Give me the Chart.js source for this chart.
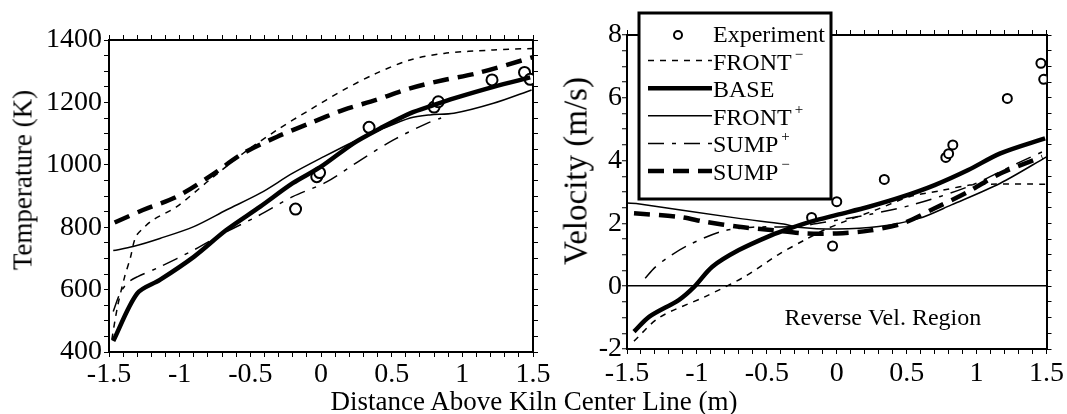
<!DOCTYPE html>
<html>
<head>
<meta charset="utf-8">
<script src="https://cdn.jsdelivr.net/npm/chart.js@4.4.0/dist/chart.umd.min.js"></script>
<style>
  body { margin: 0; background: #fff; }
  #wrap { position: relative; width: 1067px; height: 414px; overflow: hidden; font-family: 'Liberation Serif', serif; color: #000; }
  canvas { position: absolute; top: 0; }
  #tempChart { left: 0; }
  #velChart { left: 545px; }
  .title { position: absolute; white-space: nowrap; line-height: 1; z-index: 2; }
  .ytitle { transform: translate(-50%, -50%) rotate(-90deg); }
  .xtitle { transform: translate(-50%, -50%); }
</style>
</head>
<body>
<div id="wrap">
  <canvas id="tempChart" width="560" height="414"></canvas>
  <canvas id="velChart" width="522" height="414"></canvas>
  <div class="title ytitle" style="left:23px; top:180px; font-size:27px;">Temperature (K)</div>
  <div class="title ytitle" style="left:576px; top:171px; font-size:33px;">Velocity (m/s)</div>
  <div class="title xtitle" style="left:534px; top:401px; font-size:27px;">Distance Above Kiln Center Line (m)</div>
</div>
<script>
// tick labels
const xTickLabels = [-1.5, -1, -0.5, 0, 0.5, 1, 1.5];
const tempTickLabels = [400, 600, 800, 1000, 1200, 1400];
const velTickLabels = [-2, 0, 2, 4, 6, 8];

// legend / series names
const seriesNames = ['Experiment', 'FRONT', 'BASE', 'FRONT', 'SUMP', 'SUMP'];
const seriesSup = ['', '\u2212', '', '+', '+', '\u2212'];
const regionLabel = 'Reverse Vel. Region';

// temperature panel (K)
const tempExpX = [-0.18, -0.03, -0.01, 0.34, 0.80, 0.83, 1.21, 1.44, 1.48];
const tempExpY = [858, 962, 975, 1120, 1185, 1202, 1272, 1296, 1274];
const tempFrontMinusX = [-1.48, -1.44, -1.39, -1.35, -1.31, -1.25, -1.19, -1.02, -0.79, -0.55, -0.31, -0.08, 0.16, 0.39, 0.63, 0.87, 1.22, 1.50];
const tempFrontMinusY = [440, 545, 640, 700, 770, 800, 823, 866, 951, 1037, 1112, 1176, 1240, 1293, 1336, 1357, 1368, 1373];
const tempBaseX = [-1.47, -1.30, -1.14, -0.90, -0.67, -0.43, -0.20, 0.0, 0.23, 0.42, 0.63, 0.80, 0.94, 1.22, 1.48];
const tempBaseY = [435, 588, 631, 705, 791, 866, 941, 994, 1069, 1117, 1165, 1192, 1213, 1250, 1280];
const tempFrontPlusX = [-1.47, -1.33, -1.14, -0.90, -0.67, -0.43, -0.20, 0.02, 0.23, 0.42, 0.63, 0.77, 0.94, 1.22, 1.49];
const tempFrontPlusY = [725, 738, 764, 802, 855, 909, 973, 1026, 1074, 1112, 1150, 1160, 1165, 1197, 1240];
const tempSumpPlusX = [-1.47, -1.42, -1.36, -1.30, -1.14, -0.90, -0.67, -0.45, -0.20, 0.04, 0.28, 0.51, 0.75, 0.85];
const tempSumpPlusY = [530, 590, 625, 641, 673, 727, 785, 835, 898, 945, 1015, 1079, 1133, 1150];
const tempSumpMinusX = [-1.46, -1.26, -1.02, -0.79, -0.55, -0.31, -0.08, 0.16, 0.39, 0.63, 0.87, 1.10, 1.50];
const tempSumpMinusY = [815, 855, 898, 962, 1037, 1090, 1133, 1176, 1208, 1245, 1272, 1293, 1345];

// velocity panel (m/s)
const velExpX = [-0.18, -0.03, 0.0, 0.34, 0.78, 0.80, 0.83, 1.22, 1.46, 1.48];
const velExpY = [2.19, 1.28, 2.69, 3.40, 4.10, 4.22, 4.50, 5.98, 7.10, 6.59];
const velFrontMinusX = [-1.45, -1.27, -0.94, -0.66, -0.42, -0.23, -0.09, 0.05, 0.28, 0.52, 0.75, 0.95, 1.10, 1.50];
const velFrontMinusY = [-1.75, -1.0, -0.33, 0.30, 1.0, 1.47, 1.79, 2.05, 2.43, 2.85, 3.05, 3.22, 3.25, 3.25];
const velBaseX = [-1.45, -1.34, -1.13, -1.02, -0.89, -0.70, -0.47, -0.33, -0.19, 0.0, 0.23, 0.47, 0.70, 0.94, 1.17, 1.49];
const velBaseY = [-1.45, -0.97, -0.44, -0.02, 0.62, 1.15, 1.62, 1.85, 2.05, 2.27, 2.53, 2.85, 3.22, 3.70, 4.23, 4.71];
const velFrontPlusX = [-1.5, -1.41, -0.70, -0.38, -0.28, 0.0, 0.30, 0.59, 0.82, 1.17, 1.50];
const velFrontPlusY = [2.65, 2.62, 2.16, 1.98, 1.88, 1.82, 1.90, 2.16, 2.59, 3.28, 4.12];
const velSumpPlusX = [-1.37, -1.30, -1.20, -1.06, -0.82, -0.60, -0.30, 0.0, 0.25, 0.54, 0.94, 1.29, 1.50];
const velSumpPlusY = [0.25, 0.60, 0.94, 1.31, 1.75, 1.88, 1.90, 2.10, 2.30, 2.59, 3.17, 3.91, 4.34];
const velSumpMinusX = [-1.45, -1.13, -0.94, -0.70, -0.47, -0.23, 0.0, 0.23, 0.47, 0.70, 0.94, 1.17, 1.47];
const velSumpMinusY = [2.32, 2.21, 2.05, 1.89, 1.79, 1.68, 1.68, 1.77, 2.0, 2.48, 3.01, 3.59, 4.12];

Chart.defaults.font.family = "'Liberation Serif', serif";
Chart.defaults.color = '#000';

const pts = (xs, ys) => xs.map((x, i) => ({ x: x, y: ys[i] }));
const onList = (list, v) => list.some(t => Math.abs(t - v) < 1e-6);

const lineStyles = [
  { borderWidth: 1.5, borderDash: [6, 6] },       // FRONT-
  { borderWidth: 4.5, borderDash: [] },           // BASE
  { borderWidth: 1.5, borderDash: [] },           // FRONT+
  { borderWidth: 1.5, borderDash: [16, 8, 4, 8] },// SUMP+
  { borderWidth: 4.5, borderDash: [16, 9] }       // SUMP-
];

function lineSet(data, style) {
  return {
    data: data, borderColor: '#000', borderWidth: style.borderWidth, borderDash: style.borderDash,
    pointRadius: 0, tension: 0.3, fill: false
  };
}

function expSets(data, r) {
  return [
    { data: data, showLine: false, pointRadius: r, pointBorderWidth: 2, pointBorderColor: '#000', pointBackgroundColor: '#fff' },
    { data: data, showLine: false, pointRadius: 1.1, pointBorderWidth: 0, pointBackgroundColor: '#000' }
  ];
}

function buildScales(f) {
  const tickFont = { size: 28 };
  const border = { color: '#000', width: 2 };
  const grid = { drawOnChartArea: false, tickLength: 5, tickColor: '#000', tickWidth: 1 };
  const xTicks = {
    stepSize: 0.1, autoSkip: false, maxRotation: 0, padding: f.xPad, font: tickFont, color: '#000',
    callback: v => onList(xTickLabels, v) ? String(Math.round(v * 10) / 10) : ''
  };
  const yTicks = {
    stepSize: f.yStep, autoSkip: false, padding: f.yPad, font: tickFont, color: '#000',
    callback: v => onList(f.yLabels, v) ? String(Math.round(v)) : ''
  };
  return {
    x: { type: 'linear', position: 'bottom', min: -1.5, max: 1.5, border: border, grid: grid, ticks: xTicks,
         afterFit: s => { s.height = f.bottom; } },
    x2: { type: 'linear', position: 'top', min: -1.5, max: 1.5, border: border, grid: grid,
          ticks: { display: false, stepSize: 0.1, autoSkip: false },
          afterFit: s => { s.height = f.top; } },
    y: { type: 'linear', position: 'left', min: f.yMin, max: f.yMax, border: border, grid: f.yGrid || grid, ticks: yTicks,
         afterFit: s => { s.width = f.left; } },
    y2: { type: 'linear', position: 'right', min: f.yMin, max: f.yMax, border: border, grid: grid,
          ticks: { display: false, stepSize: f.yStep, autoSkip: false },
          afterFit: s => { s.width = f.right; } }
  };
}

const baseOptions = {
  responsive: false, animation: false, events: [],
  layout: { padding: 0, autoPadding: false },
  plugins: { legend: { display: false }, tooltip: { enabled: false } }
};

// temperature chart
new Chart(document.getElementById('tempChart'), {
  type: 'line',
  data: {
    datasets: [
      lineSet(pts(tempFrontMinusX, tempFrontMinusY), lineStyles[0]),
      lineSet(pts(tempBaseX, tempBaseY), lineStyles[1]),
      lineSet(pts(tempFrontPlusX, tempFrontPlusY), lineStyles[2]),
      lineSet(pts(tempSumpPlusX, tempSumpPlusY), lineStyles[3]),
      lineSet(pts(tempSumpMinusX, tempSumpMinusY), lineStyles[4])
    ].concat(expSets(pts(tempExpX, tempExpY), 5.5))
  },
  options: Object.assign({}, baseOptions, {
    scales: buildScales({
      left: 109, right: 27, top: 40, bottom: 62, xPad: 1, yPad: 2,
      yMin: 400, yMax: 1400, yStep: 50, yLabels: tempTickLabels
    })
  })
});

// legend and region text for the velocity chart
const velExtras = {
  id: 'velExtras',
  afterDraw(chart) {
    const ctx = chart.ctx;
    const sx = chart.scales.x, sy = chart.scales.y;
    ctx.save();
    ctx.fillStyle = '#000';
    ctx.font = "24px 'Liberation Serif'";
    ctx.textAlign = 'center';
    ctx.textBaseline = 'alphabetic';
    ctx.fillText(regionLabel, sx.getPixelForValue(0.33), sy.getPixelForValue(-1.24));

    // legend box
    const bx = 94, by = 13, bw = 192, bh = 186;
    ctx.fillStyle = '#fff';
    ctx.fillRect(bx, by, bw, bh);
    ctx.lineWidth = 3;
    ctx.strokeStyle = '#000';
    ctx.strokeRect(bx, by, bw, bh);

    ctx.textAlign = 'left';
    seriesNames.forEach((name, i) => {
      const base = 42 + i * 27.6;
      const mid = base - 9;
      ctx.strokeStyle = '#000';
      ctx.fillStyle = '#000';
      if (i === 0) {
        ctx.lineWidth = 2;
        ctx.setLineDash([]);
        ctx.beginPath();
        ctx.arc(133, mid + 2, 4, 0, Math.PI * 2);
        ctx.stroke();
      } else {
        const st = lineStyles[i - 1];
        ctx.lineWidth = st.borderWidth;
        ctx.setLineDash(st.borderDash);
        ctx.beginPath();
        ctx.moveTo(103, mid);
        ctx.lineTo(167, mid);
        ctx.stroke();
        ctx.setLineDash([]);
      }
      ctx.font = "24px 'Liberation Serif'";
      ctx.fillText(name, 168, base);
      if (seriesSup[i]) {
        const w = ctx.measureText(name).width;
        ctx.font = "15px 'Liberation Serif'";
        ctx.fillText(seriesSup[i], 168 + w + 3, base - 11);
      }
    });
    ctx.restore();
  }
};

// velocity chart
new Chart(document.getElementById('velChart'), {
  type: 'line',
  data: {
    datasets: [
      lineSet(pts(velFrontMinusX, velFrontMinusY), lineStyles[0]),
      lineSet(pts(velBaseX, velBaseY), lineStyles[1]),
      lineSet(pts(velFrontPlusX, velFrontPlusY), lineStyles[2]),
      lineSet(pts(velSumpPlusX, velSumpPlusY), lineStyles[3]),
      lineSet(pts(velSumpMinusX, velSumpMinusY), lineStyles[4])
    ].concat(expSets(pts(velExpX, velExpY), 4.5))
  },
  options: Object.assign({}, baseOptions, {
    scales: buildScales({
      left: 82, right: 14, top: 35, bottom: 65, xPad: 3, yPad: 0,
      yMin: -2, yMax: 8, yStep: 0.5, yLabels: velTickLabels,
      yGrid: {
        drawOnChartArea: true, tickLength: 5, tickColor: '#000', tickWidth: 1, lineWidth: 1.5,
        color: c => (c.tick && Math.abs(c.tick.value) < 1e-9) ? '#000' : 'rgba(0,0,0,0)'
      }
    })
  }),
  plugins: [velExtras]
});
</script>
</body>
</html>
